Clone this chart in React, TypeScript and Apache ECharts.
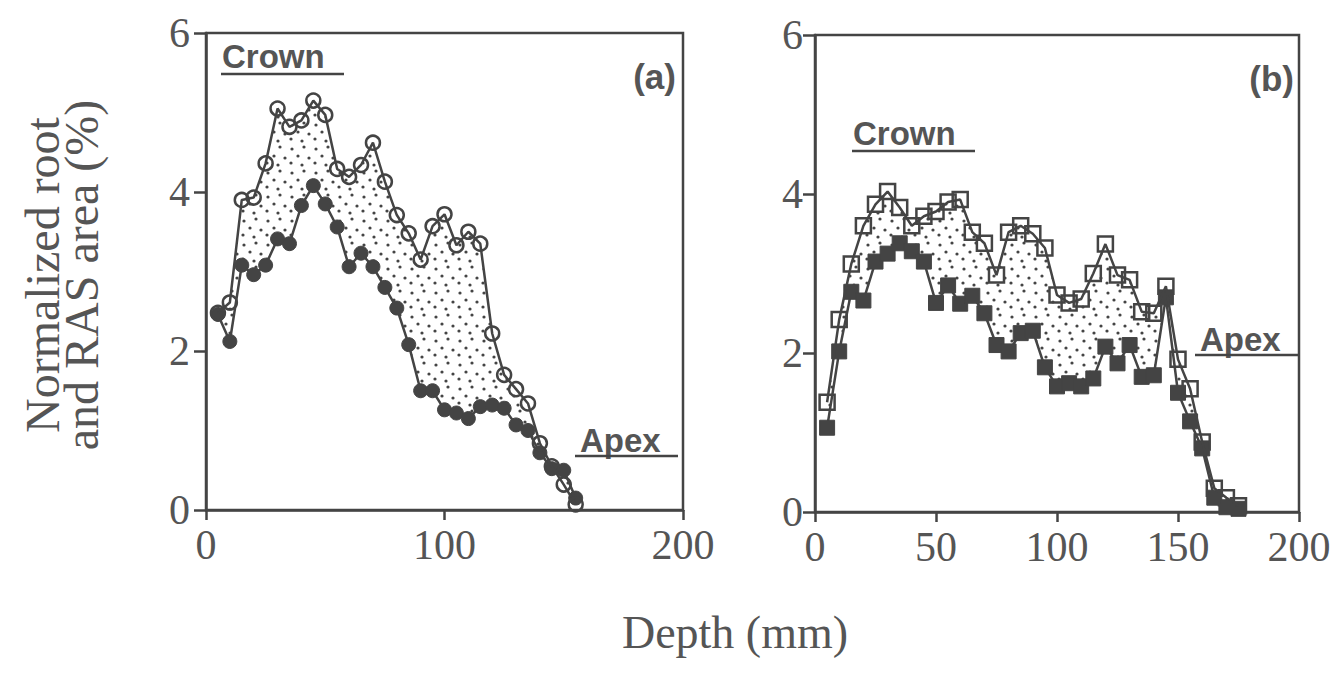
import React, { useEffect, useRef } from "react";
import * as echarts from "echarts";

// Panel (a): depth (mm), upper series (open circles), lower series (filled circles)
const depthA = [5, 10, 15, 20, 25, 30, 35, 40, 45, 50, 55, 60, 65, 70, 75, 80, 85, 90, 95, 100, 105, 110, 115, 120, 125, 130, 135, 140, 145, 150, 155];
const upperA = [2.48, 2.61, 3.9, 3.93, 4.36, 5.05, 4.82, 4.9, 5.15, 4.97, 4.29, 4.19, 4.34, 4.62, 4.13, 3.71, 3.48, 3.15, 3.57, 3.72, 3.33, 3.5, 3.35, 2.22, 1.7, 1.52, 1.34, 0.84, 0.55, 0.32, 0.07];
const lowerA = [2.46, 2.12, 3.08, 2.96, 3.08, 3.41, 3.35, 3.83, 4.08, 3.85, 3.56, 3.06, 3.23, 3.06, 2.8, 2.54, 2.08, 1.5, 1.5, 1.26, 1.22, 1.15, 1.3, 1.32, 1.28, 1.07, 1.0, 0.72, 0.52, 0.5, 0.15];

// Panel (b): depth (mm), upper series (open squares), lower series (filled squares)
const depthB = [5, 10, 15, 20, 25, 30, 35, 40, 45, 50, 55, 60, 65, 70, 75, 80, 85, 90, 95, 100, 105, 110, 115, 120, 125, 130, 135, 140, 145, 150, 155, 160, 165, 170, 175];
const upperB = [1.38, 2.42, 3.12, 3.6, 3.87, 4.03, 3.83, 3.6, 3.72, 3.78, 3.9, 3.93, 3.52, 3.38, 2.98, 3.52, 3.6, 3.5, 3.32, 2.73, 2.63, 2.68, 3.0, 3.37, 2.98, 2.92, 2.52, 2.5, 2.84, 1.92, 1.55, 0.88, 0.3, 0.18, 0.08];
const lowerB = [1.06, 2.02, 2.77, 2.66, 3.15, 3.25, 3.38, 3.28, 3.15, 2.63, 2.85, 2.62, 2.72, 2.5, 2.1, 2.02, 2.25, 2.28, 1.82, 1.58, 1.62, 1.58, 1.68, 2.08, 1.87, 2.1, 1.7, 1.72, 2.7, 1.5, 1.14, 0.8, 0.18, 0.06, 0.04];

const xMin = 0;
const xMax = 200;
const xIntervalA = 100;
const xIntervalB = 50;
const yMin = 0;
const yMax = 6;
const yInterval = 2;

const INK = "#444";
const TEXT = "#555";
const SERIF = '"Liberation Serif", "Times New Roman", serif';
const SANS = '"Liberation Sans", Arial, sans-serif';

export default function App() {
  const ref = useRef<HTMLDivElement>(null);

  useEffect(() => {
    const el = ref.current;
    if (!el) return;
    const chart = echarts.init(el, null, { renderer: "svg" });

    // stipple tile
    const c = document.createElement("canvas");
    c.width = 24;
    c.height = 24;
    const ctx = c.getContext("2d")!;
    ctx.fillStyle = INK;
    const dots = [
      [4, 5], [16, 3], [10, 12], [21, 14], [3, 19], [14, 21],
    ];
    dots.forEach(([x, y]) => {
      ctx.beginPath();
      ctx.arc(x, y, 1.6, 0, Math.PI * 2);
      ctx.fill();
    });
    const stipple: any = { image: c.toDataURL(), repeat: "repeat", imageWidth: 24, imageHeight: 24 };

    const xAxisCfg = (gridIndex: number, interval: number) => ({
      type: "value",
      gridIndex,
      min: xMin,
      max: xMax,
      interval,
      axisLine: { show: true, onZero: false, lineStyle: { color: INK, width: 2.5 } },
      axisTick: { show: true, inside: false, length: 10, lineStyle: { color: INK, width: 2.5 } },
      axisLabel: { color: TEXT, fontFamily: SERIF, fontSize: 42, margin: 14 },
      splitLine: { show: false },
    });
    const yAxisCfg = (gridIndex: number, margin: number) => ({
      type: "value",
      gridIndex,
      min: yMin,
      max: yMax,
      interval: yInterval,
      axisLine: { show: true, onZero: false, lineStyle: { color: INK, width: 2.5 } },
      axisTick: { show: true, inside: false, length: 12, lineStyle: { color: INK, width: 2.5 } },
      axisLabel: { color: TEXT, fontFamily: SERIF, fontSize: 42, margin },
      splitLine: { show: false },
    });

    const fillSeries = (idx: number, xs: number[], up: number[], low: number[]) => ({
      type: "custom",
      xAxisIndex: idx,
      yAxisIndex: idx,
      silent: true,
      z: 1,
      data: [[xs[0], up[0]]],
      renderItem: (_p: any, api: any) => {
        const pts: number[][] = [];
        for (let i = 0; i < xs.length; i++) pts.push(api.coord([xs[i], up[i]]));
        for (let i = xs.length - 1; i >= 0; i--) pts.push(api.coord([xs[i], low[i]]));
        return { type: "polygon", shape: { points: pts }, style: { fill: stipple, stroke: null } };
      },
    });

    const lineSeries = (idx: number, xs: number[], ys: number[], symbol: string, size: number, filled: boolean) => ({
      type: "line",
      xAxisIndex: idx,
      yAxisIndex: idx,
      data: xs.map((x, i) => [x, ys[i]]),
      symbol,
      symbolSize: size,
      showAllSymbol: true,
      silent: true,
      z: filled ? 3 : 4,
      emphasis: { disabled: true },
      lineStyle: { color: INK, width: 2.5 },
      itemStyle: filled
        ? { color: INK, borderColor: INK, borderWidth: 1 }
        : { color: "rgba(255,255,255,0)", borderColor: INK, borderWidth: 2.5 },
    });

    const label = (text: string, x: number, y: number, size: number, align = "left") => ({
      type: "text",
      x,
      y,
      silent: true,
      style: {
        text,
        fill: TEXT,
        fontFamily: SANS,
        fontWeight: "bold",
        fontSize: size,
        align,
        verticalAlign: "middle",
      },
    });
    const underline = (x1: number, x2: number, y: number) => ({
      type: "line",
      silent: true,
      shape: { x1, y1: y, x2, y2: y },
      style: { stroke: INK, lineWidth: 2.5 },
    });

    chart.setOption({
      animation: false,
      backgroundColor: "#fff",
      grid: [
        { left: 206, top: 33, width: 477, height: 477, show: true, borderColor: INK, borderWidth: 2.5, containLabel: false, outerBoundsMode: "none" },
        { left: 815, top: 35, width: 484, height: 477, show: true, borderColor: INK, borderWidth: 2.5, containLabel: false, outerBoundsMode: "none" },
      ],
      xAxis: [xAxisCfg(0, xIntervalA), xAxisCfg(1, xIntervalB)],
      yAxis: [yAxisCfg(0, 16), yAxisCfg(1, 12)],
      series: [
        fillSeries(0, depthA, upperA, lowerA),
        lineSeries(0, depthA, lowerA, "circle", 14, true),
        lineSeries(0, depthA, upperA, "circle", 14, false),
        fillSeries(1, depthB, upperB, lowerB),
        lineSeries(1, depthB, lowerB, "rect", 15, true),
        lineSeries(1, depthB, upperB, "rect", 15, false),
      ],
      graphic: [
        label("Crown", 222, 56, 33),
        underline(221, 344, 74),
        label("(a)", 676, 76, 35, "right"),
        label("Apex", 580, 440, 33),
        underline(575, 678, 456),
        label("Crown", 853, 133, 33),
        underline(852, 975, 151),
        label("(b)", 1294, 78, 35, "right"),
        label("Apex", 1200, 339, 33),
        underline(1195, 1298, 355),
        {
          type: "text",
          x: 62,
          y: 275,
          rotation: Math.PI / 2,
          silent: true,
          style: {
            text: "Normalized root\nand RAS area (%)",
            fill: TEXT,
            fontFamily: SERIF,
            fontSize: 48,
            lineHeight: 39,
            align: "center",
            verticalAlign: "middle",
          },
        },
        {
          type: "text",
          x: 735,
          y: 632,
          silent: true,
          style: {
            text: "Depth (mm)",
            fill: TEXT,
            fontFamily: SERIF,
            fontSize: 46,
            align: "center",
            verticalAlign: "middle",
          },
        },
      ],
    });

    return () => chart.dispose();
  }, []);

  return (
    <div
      ref={ref}
      style={{ position: "fixed", left: 0, top: 0, width: 1338, height: 679, background: "#fff" }}
    />
  );
}
